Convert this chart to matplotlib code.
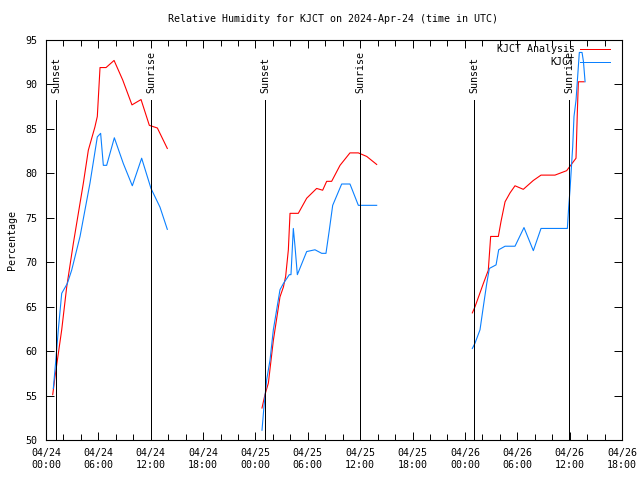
import matplotlib
matplotlib.use("Agg")
import matplotlib.pyplot as plt
import matplotlib.dates as mdates
from matplotlib.lines import Line2D
from datetime import datetime, timedelta

BASE = datetime(2024, 4, 24, 0, 0)

# hours since 2024-04-24 00:00 UTC, values in %
ana_hours = [0.77, 1.03, 1.8, 2.37, 3.13, 4.28, 4.85, 5.6, 5.88, 6.19, 6.88, 7.8, 8.79, 9.85,
             10.89, 11.84, 12.76, 13.9,
             24.75, 25.09, 25.48, 26.05, 26.81, 27.2, 27.46, 27.77, 27.96, 28.91, 29.87, 31.01,
             31.7, 32.16, 32.73, 33.69, 34.83, 35.79, 36.75, 37.89,
             48.85, 49.16, 50.11, 50.68, 50.95, 51.83, 52.14, 52.6, 53.17, 53.74, 54.69, 55.84,
             56.72, 58.32, 59.66, 60.04, 60.73, 60.88, 61.0, 61.65]
ana_vals = [55.1, 57.1, 62.4, 67.2, 72.1, 78.9, 82.6, 85.2, 86.4, 91.9, 91.9, 92.7, 90.5, 87.7,
            88.3, 85.4, 85.1, 82.8,
            53.6, 55.1, 56.4, 61.2, 66.1, 67.2, 68.4, 71.4, 75.5, 75.5, 77.2, 78.3,
            78.1, 79.1, 79.1, 80.9, 82.3, 82.3, 81.9, 81.0,
            64.3, 65.0, 67.6, 69.1, 72.9, 72.9, 74.6, 76.8, 77.8, 78.6, 78.2, 79.2,
            79.8, 79.8, 80.3, 80.8, 81.7, 86.8, 90.3, 90.3]

obs_hours = [0.84, 1.11, 1.41, 1.8, 2.44, 2.94, 3.9, 5.04, 5.88, 6.26, 6.57, 6.95, 7.83, 8.86,
             9.89, 10.96, 12.03, 13.06, 13.9,
             24.75, 24.98, 25.29, 25.67, 26.05, 26.81, 27.2, 27.88, 28.07, 28.34, 28.53, 28.8,
             29.87, 30.82, 31.59, 32.08, 32.46, 32.85, 33.88, 34.83, 35.79, 37.89,
             48.85, 49.16, 49.73, 50.11, 50.5, 50.8, 51.57, 51.87, 52.6, 53.74, 54.77, 55.84,
             56.72, 59.74, 59.89, 60.04, 60.16, 60.35, 60.5, 60.73, 60.92, 61.11, 61.42, 61.58, 61.77]
obs_vals = [55.8, 58.8, 62.4, 66.5, 67.6, 69.1, 72.9, 78.9, 84.1, 84.5, 80.9, 80.9, 84.0, 81.1,
            78.6, 81.7, 78.3, 76.2, 73.7,
            51.1, 53.8, 56.8, 59.0, 62.4, 66.9, 67.6, 68.6, 68.6, 73.8, 71.8, 68.6,
            71.2, 71.4, 71.0, 71.0, 73.6, 76.4, 78.8, 78.8, 76.4, 76.4,
            60.3, 60.9, 62.4, 65.0, 67.6, 69.3, 69.7, 71.4, 71.8, 71.8, 73.9, 71.3,
            73.8, 73.8, 76.2, 78.1, 80.0, 83.0, 86.4, 88.2, 90.9, 93.6, 93.6, 92.6, 90.3]

event_hours = [1.15, 12.07, 25.13, 36.02, 49.08, 59.97]
event_labels = ["Sunset", "Sunrise", "Sunset", "Sunrise", "Sunset", "Sunrise"]

series_names = ["KJCT Analysis", "KJCT"]
series_colors = ["#ff0000", "#0a80ff"]

title = "Relative Humidity for KJCT on 2024-Apr-24 (time in UTC)"
ylabel = "Percentage"

def to_dt(h):
    return [BASE + timedelta(hours=x) for x in h]

def segments(hours, vals, gap=6.0):
    segs, cur_h, cur_v = [], [], []
    for h, v in zip(hours, vals):
        if cur_h and h - cur_h[-1] > gap:
            segs.append((cur_h, cur_v))
            cur_h, cur_v = [], []
        cur_h.append(h)
        cur_v.append(v)
    if cur_h:
        segs.append((cur_h, cur_v))
    return segs

FONT = "DejaVu Sans Mono"
FS = 7.2
LW = 0.8
plt.rcParams['font.family'] = FONT

fig = plt.figure(figsize=(6.4, 4.8), dpi=100)
ax = fig.add_axes([46/640, 40/480, 576/640, 400/480])

for (hours, vals), col in zip([(ana_hours, ana_vals), (obs_hours, obs_vals)], series_colors):
    for sh, sv in segments(hours, vals):
        ax.plot(to_dt(sh), sv, color=col, lw=LW)

for h, lab in zip(event_hours, event_labels):
    t = BASE + timedelta(hours=h)
    ax.plot([t, t], [50, 88.25], color="black", lw=0.72, antialiased=False)
    ax.text(t, 89.0, lab, rotation=90, ha="center", va="bottom", fontsize=FS, family=FONT)

ax.set_xlim(BASE, BASE + timedelta(hours=66))
ax.set_ylim(50, 95)
ax.xaxis.set_major_locator(mdates.HourLocator(byhour=[0, 6, 12, 18]))
ax.xaxis.set_minor_locator(mdates.HourLocator(byhour=range(0, 24, 2)))
ax.xaxis.set_major_formatter(mdates.DateFormatter("%m/%d\n%H:%M"))
ax.set_yticks(range(50, 96, 5))

ax.tick_params(axis="both", which="both", direction="in", top=True, right=True,
               labelsize=FS, width=0.7)
ax.tick_params(axis="both", which="major", length=6, pad=6)
ax.tick_params(axis="x", which="minor", length=4)
for lab in ax.get_xticklabels() + ax.get_yticklabels():
    lab.set_family(FONT)
for s in ax.spines.values():
    s.set_linewidth(0.8)

fig.text(0.52, 1 - 19/480, title, ha="center", va="center", fontsize=FS, family=FONT)
fig.text(12/640, 0.5, ylabel, rotation=90, ha="center", va="center", fontsize=FS, family=FONT)

# legend drawn gnuplot-style (text right-aligned, sample at right)
for i, (name, col) in enumerate(zip(series_names, series_colors)):
    yy = 0.977 - i * 0.033
    ax.text(0.918, yy, name, transform=ax.transAxes, ha="right", va="center",
            fontsize=FS, family=FONT)
    ax.add_line(Line2D([0.927, 0.979], [yy, yy], transform=ax.transAxes, color=col,
                       lw=0.72, antialiased=False))

fig.savefig("out.png", dpi=100)
